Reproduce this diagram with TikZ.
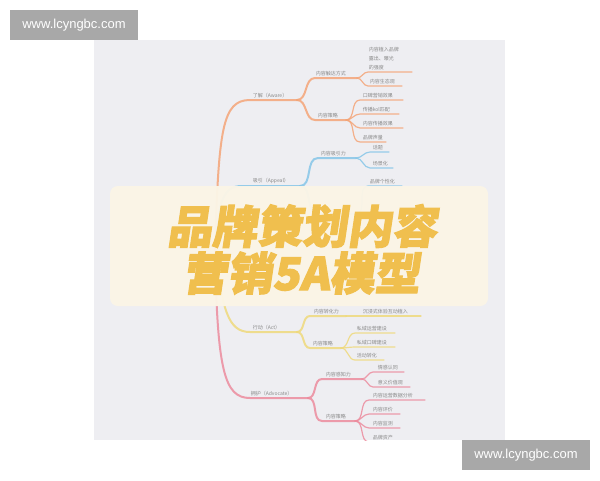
\documentclass[tikz,border=0pt]{standalone}
\usepackage{fontspec}
\setmainfont{Liberation Sans}
\newfontfamily\cjk{Noto Sans CJK SC}
\newfontfamily\cjkhead[FakeSlant=0.15,BoldFeatures={FakeBold=2.5}]{Noto Sans CJK SC}
\definecolor{panelC}{HTML}{EEEEF2}
\definecolor{wmC}{HTML}{A8A8A8}
\definecolor{oraC}{HTML}{F4A578}
\definecolor{bluC}{HTML}{86C6E8}
\definecolor{yelC}{HTML}{EFD97C}
\definecolor{pnkC}{HTML}{EC8C9E}
\definecolor{banC}{HTML}{FBF5E6}
\definecolor{headC}{HTML}{F0BF4E}
\definecolor{txtC}{HTML}{8A8A8A}
\tikzset{
  br/.style={line width=2pt, line cap=round, opacity=0.85},
  lf/.style={line width=1.2pt, line cap=round, opacity=0.85},
  ora/.style={draw=oraC}, blu/.style={draw=bluC}, yel/.style={draw=yelC}, pnk/.style={draw=pnkC},
  lbl/.style={font=\cjk\fontsize{5}{9}\selectfont, text=txtC, inner sep=0.6pt, anchor=south west},
  wm/.style={fill=wmC, text=white, minimum width=128pt, minimum height=30pt, inner sep=0pt, font=\fontsize{13}{13}\selectfont},
  head/.style={font=\cjkhead\bfseries\fontsize{45}{45}\selectfont, text=headC, inner sep=0pt},
}
\begin{document}
\begin{tikzpicture}[x=1pt,y=-1pt]
\useasboundingbox (0,0) rectangle (600,480);
\fill[white] (0,0) rectangle (600,480);
\fill[panelC] (94,40) rectangle (505,440);
\begin{scope}
\clip (94,40) rectangle (505,440);
\coordinate (R) at (215,246);
% ---------- orange: Aware
\coordinate (Ao) at (250,100); \coordinate (Ae) at (297,100);
\draw[br,ora] (R) .. controls (219,130) and (222,100) .. (Ao) -- (Ae);
\node[lbl] (A) at (252,99) {了解（Aware）};
\coordinate (A1o) at (315,78); \coordinate (A1e) at (357,78);
\draw[br,ora] (Ae) to[out=0,in=180] (A1o) -- (A1e);
\node[lbl] (A1) at (315,77) {内容触达方式};
\coordinate (A2o) at (315,120); \coordinate (A2e) at (346,120);
\draw[br,ora] (Ae) to[out=0,in=180] (A2o) -- (A2e);
\node[lbl] (A2) at (317,119) {内容策略};
\coordinate (A11o) at (368,72); \coordinate (A11e) at (412,72);
\draw[lf,ora] (A1e) to[out=0,in=180] (A11o) -- (A11e);
\node[lbl, align=left] (A11) at (368,71) {内容植入品牌\\露出、曝光\\的强度};
\coordinate (A12o) at (368,86); \coordinate (A12e) at (402,86);
\draw[lf,ora] (A1e) to[out=0,in=180] (A12o) -- (A12e);
\node[lbl] (A12) at (369,85) {内容生态观};
\coordinate (A21o) at (360,100); \coordinate (A21e) at (403,100);
\draw[lf,ora] (A2e) to[out=0,in=180] (A21o) -- (A21e);
\node[lbl] (A21) at (362,99) {口碑营销效果};
\coordinate (A22o) at (360,114); \coordinate (A22e) at (399,114);
\draw[lf,ora] (A2e) to[out=0,in=180] (A22o) -- (A22e);
\node[lbl] (A22) at (362,113) {传播kol匹配};
\coordinate (A23o) at (360,128); \coordinate (A23e) at (403,128);
\draw[lf,ora] (A2e) to[out=0,in=180] (A23o) -- (A23e);
\node[lbl] (A23) at (362,127) {内容传播效果};
\coordinate (A24o) at (360,142); \coordinate (A24e) at (386,142);
\draw[lf,ora] (A2e) to[out=0,in=180] (A24o) -- (A24e);
\node[lbl] (A24) at (362,141) {品牌声量};
% ---------- blue: Appeal
\coordinate (Bo) at (242,186); \coordinate (Be) at (300,186);
\draw[br,blu] (R) .. controls (218,200) and (224,186) .. (Bo) -- (Be);
\node[lbl] (B) at (252,184) {吸引（Appeal）};
\coordinate (B1o) at (318,158); \coordinate (B1e) at (356,158);
\draw[br,blu] (Be) to[out=0,in=180] (B1o) -- (B1e);
\node[lbl] (B1) at (320,157) {内容吸引力};
\coordinate (B2o) at (318,214); \coordinate (B2e) at (356,214);
\draw[br,blu] (Be) to[out=0,in=180] (B2o) -- (B2e);
\coordinate (B11o) at (370,152); \coordinate (B11e) at (389,152);
\draw[lf,blu] (B1e) to[out=0,in=180] (B11o) -- (B11e);
\node[lbl] (B11) at (372,151) {话题};
\coordinate (B12o) at (370,168); \coordinate (B12e) at (393,168);
\draw[lf,blu] (B1e) to[out=0,in=180] (B12o) -- (B12e);
\node[lbl] (B12) at (372,167) {场景化};
\coordinate (B21o) at (368,186); \coordinate (B21e) at (402,186);
\draw[lf,blu] (B2e) to[out=0,in=180] (B21o) -- (B21e);
\node[lbl] (B21) at (369,185) {品牌个性化};
% ---------- yellow: Act
\coordinate (Co) at (250,332); \coordinate (Ce) at (297,332);
\draw[br,yel] (R) .. controls (222,310) and (228,332) .. (Co) -- (Ce);
\node[lbl] (C) at (252,331) {行动（Act）};
\coordinate (C1o) at (310,316); \coordinate (C1e) at (346,316);
\draw[br,yel] (Ce) to[out=0,in=180] (C1o) -- (C1e);
\node[lbl] (C1) at (313,315) {内容转化力};
\coordinate (C11e) at (421,316);
\draw[lf,yel] (C1e) -- (C11e);
\node[lbl] (C11) at (362,315) {沉浸式体验互动植入};
\coordinate (C2o) at (310,348); \coordinate (C2e) at (341,348);
\draw[br,yel] (Ce) to[out=0,in=180] (C2o) -- (C2e);
\node[lbl] (C2) at (312,347) {内容策略};
\coordinate (C21o) at (355,333); \coordinate (C21e) at (395,333);
\draw[lf,yel] (C2e) to[out=0,in=180] (C21o) -- (C21e);
\node[lbl] (C21) at (356,332) {私域运营建设};
\coordinate (C22o) at (355,347); \coordinate (C22e) at (395,347);
\draw[lf,yel] (C2e) to[out=0,in=180] (C22o) -- (C22e);
\node[lbl] (C22) at (356,346) {私域口碑建设};
\coordinate (C23o) at (355,360); \coordinate (C23e) at (384,360);
\draw[lf,yel] (C2e) to[out=0,in=180] (C23o) -- (C23e);
\node[lbl] (C23) at (356,359) {活动转化};
% ---------- pink: Advocate
\coordinate (Do) at (250,398); \coordinate (De) at (308,398);
\draw[br,pnk] (R) .. controls (217,370) and (224,398) .. (Do) -- (De);
\node[lbl] (D) at (250,397) {拥护（Advocate）};
\coordinate (D1o) at (322,379); \coordinate (D1e) at (362,379);
\draw[br,pnk] (De) to[out=0,in=180] (D1o) -- (D1e);
\node[lbl] (D1) at (325,378) {内容感知力};
\coordinate (D2o) at (322,421); \coordinate (D2e) at (355,421);
\draw[br,pnk] (De) to[out=0,in=180] (D2o) -- (D2e);
\node[lbl] (D2) at (325,420) {内容策略};
\coordinate (D11o) at (373,372); \coordinate (D11e) at (404,372);
\draw[lf,pnk] (D1e) to[out=0,in=180] (D11o) -- (D11e);
\node[lbl] (D11) at (377,371) {情感认同};
\coordinate (D12o) at (373,387); \coordinate (D12e) at (410,387);
\draw[lf,pnk] (D1e) to[out=0,in=180] (D12o) -- (D12e);
\node[lbl] (D12) at (377,386) {意义价值观};
\coordinate (D21o) at (369,400); \coordinate (D21e) at (425,400);
\draw[lf,pnk] (D2e) to[out=0,in=180] (D21o) -- (D21e);
\node[lbl] (D21) at (372,399) {内容运营数据分析};
\coordinate (D22o) at (369,414); \coordinate (D22e) at (400,414);
\draw[lf,pnk] (D2e) to[out=0,in=180] (D22o) -- (D22e);
\node[lbl] (D22) at (372,413) {内容评价};
\coordinate (D23o) at (369,428); \coordinate (D23e) at (400,428);
\draw[lf,pnk] (D2e) to[out=0,in=180] (D23o) -- (D23e);
\node[lbl] (D23) at (372,427) {内容监测};
\coordinate (D24o) at (369,442); \coordinate (D24e) at (400,442);
\draw[lf,pnk] (D2e) to[out=0,in=180] (D24o) -- (D24e);
\node[lbl] (D24) at (372,441) {品牌资产};
\end{scope}
% ---------- banner
\node[fill=banC, fill opacity=0.96, rounded corners=8pt, minimum width=378pt, minimum height=120pt, inner sep=0pt] (ban) at (299,246) {};
\node[head] (T1) at (302,226) {品牌策划内容};
\node[head] (T2) at (301,273) {营销5A模型};
% ---------- watermarks
\node[wm] (W1) at (74,25) {www.lcyngbc.com};
\node[wm] (W2) at (526,455) {www.lcyngbc.com};
\end{tikzpicture}
\end{document}
